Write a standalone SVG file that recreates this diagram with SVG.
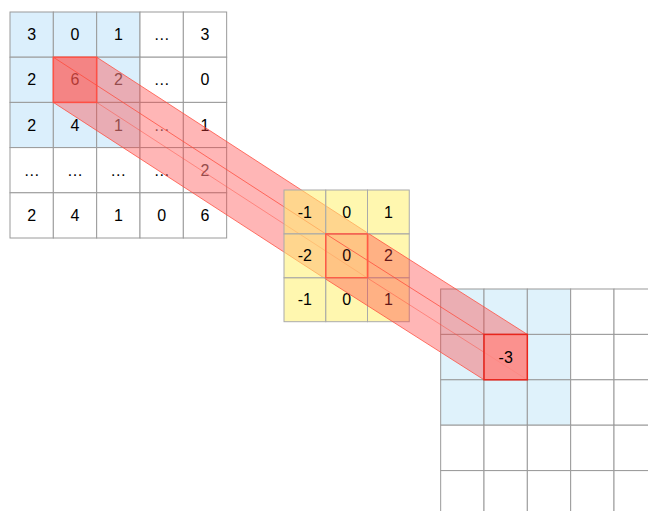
<svg xmlns="http://www.w3.org/2000/svg" width="648" height="511" viewBox="0 0 648 511">
<style>
.c{stroke:#9a9a9a;stroke-width:1}
.b{fill:#dbeffc}
.w{fill:#ffffff}
.kc{fill:#fff06e;fill-opacity:0.55;stroke:#aaaaaa;stroke-width:1}
.ob{fill:#dff2fb}
.t{font-family:"Liberation Sans",Arial,Helvetica,sans-serif;font-size:16px;fill:#000;text-anchor:middle;dominant-baseline:central}
.band{fill:#ff4040;fill-opacity:0.38;stroke:none}
.ln{stroke:#ff4a3a;stroke-width:1;stroke-opacity:0.75;fill:none}
.ln2{stroke:#ff4a3a;stroke-width:1;stroke-opacity:0.45;fill:none}
</style>
<g id="input-grid">
<rect class="c b" x="10" y="12" width="43.33" height="45.2"/>
<rect class="c b" x="53.33" y="12" width="43.33" height="45.2"/>
<rect class="c b" x="96.67" y="12" width="43.33" height="45.2"/>
<rect class="c w" x="140" y="12" width="43.33" height="45.2"/>
<rect class="c w" x="183.33" y="12" width="43.33" height="45.2"/>
<rect class="c b" x="10" y="57.2" width="43.33" height="45.2"/>
<rect class="c b" x="53.33" y="57.2" width="43.33" height="45.2"/>
<rect class="c b" x="96.67" y="57.2" width="43.33" height="45.2"/>
<rect class="c w" x="140" y="57.2" width="43.33" height="45.2"/>
<rect class="c w" x="183.33" y="57.2" width="43.33" height="45.2"/>
<rect class="c b" x="10" y="102.4" width="43.33" height="45.2"/>
<rect class="c b" x="53.33" y="102.4" width="43.33" height="45.2"/>
<rect class="c b" x="96.67" y="102.4" width="43.33" height="45.2"/>
<rect class="c w" x="140" y="102.4" width="43.33" height="45.2"/>
<rect class="c w" x="183.33" y="102.4" width="43.33" height="45.2"/>
<rect class="c w" x="10" y="147.6" width="43.33" height="45.2"/>
<rect class="c w" x="53.33" y="147.6" width="43.33" height="45.2"/>
<rect class="c w" x="96.67" y="147.6" width="43.33" height="45.2"/>
<rect class="c w" x="140" y="147.6" width="43.33" height="45.2"/>
<rect class="c w" x="183.33" y="147.6" width="43.33" height="45.2"/>
<rect class="c w" x="10" y="192.8" width="43.33" height="45.2"/>
<rect class="c w" x="53.33" y="192.8" width="43.33" height="45.2"/>
<rect class="c w" x="96.67" y="192.8" width="43.33" height="45.2"/>
<rect class="c w" x="140" y="192.8" width="43.33" height="45.2"/>
<rect class="c w" x="183.33" y="192.8" width="43.33" height="45.2"/>
<text class="t" x="31.67" y="34.6">3</text>
<text class="t" x="75" y="34.6">0</text>
<text class="t" x="118.33" y="34.6">1</text>
<text class="t" x="161.67" y="34.6">…</text>
<text class="t" x="205" y="34.6">3</text>
<text class="t" x="31.67" y="79.8">2</text>
<text class="t" x="75" y="79.8" fill="#444">6</text>
<text class="t" x="118.33" y="79.8" style="fill:#555">2</text>
<text class="t" x="161.67" y="79.8">…</text>
<text class="t" x="205" y="79.8">0</text>
<text class="t" x="31.67" y="125">2</text>
<text class="t" x="75" y="125">4</text>
<text class="t" x="118.33" y="125" style="fill:#555">1</text>
<text class="t" x="161.67" y="125" style="fill:#555">…</text>
<text class="t" x="205" y="125">1</text>
<text class="t" x="31.67" y="170.2">…</text>
<text class="t" x="75" y="170.2">…</text>
<text class="t" x="118.33" y="170.2">…</text>
<text class="t" x="161.67" y="170.2">…</text>
<text class="t" x="205" y="170.2" style="fill:#555">2</text>
<text class="t" x="31.67" y="215.4">2</text>
<text class="t" x="75" y="215.4">4</text>
<text class="t" x="118.33" y="215.4">1</text>
<text class="t" x="161.67" y="215.4">0</text>
<text class="t" x="205" y="215.4">6</text>
</g>
<g id="input-cell">
<rect x="53.33" y="57.2" width="43.33" height="45.2" fill="#ff7060" fill-opacity="0.5" stroke="#ff5a4a" stroke-width="1.5"/>
</g>
<g id="connectors">
<g id="projection-1">
<polygon class="band" points="96.67,57.2 369.08,233.9 369.08,279.1 325.75,279.1 53.33,102.4 53.33,57.2"/>
<line class="ln" x1="53.33" y1="57.2" x2="325.75" y2="233.9"/>
<line class="ln" x1="96.67" y1="57.2" x2="369.08" y2="233.9"/>
<line class="ln" x1="53.33" y1="102.4" x2="325.75" y2="279.1"/>
<line class="ln2" x1="96.67" y1="102.4" x2="369.08" y2="279.1"/>
</g>
</g>
<g id="kernel">
<rect class="kc" x="284" y="190" width="41.75" height="43.9"/>
<rect class="kc" x="325.75" y="190" width="41.75" height="43.9"/>
<rect class="kc" x="367.5" y="190" width="41.75" height="43.9"/>
<rect class="kc" x="284" y="233.9" width="41.75" height="43.9"/>
<rect class="kc" x="325.75" y="233.9" width="41.75" height="43.9"/>
<rect class="kc" x="367.5" y="233.9" width="41.75" height="43.9"/>
<rect class="kc" x="284" y="277.8" width="41.75" height="43.9"/>
<rect class="kc" x="325.75" y="277.8" width="41.75" height="43.9"/>
<rect class="kc" x="367.5" y="277.8" width="41.75" height="43.9"/>
<text class="t" x="304.9" y="212">-1</text>
<text class="t" x="346.6" y="212">0</text>
<text class="t" x="388.4" y="212">1</text>
<text class="t" x="304.9" y="255.9">-2</text>
<text class="t" x="346.6" y="255.9">0</text>
<text class="t" x="388.4" y="255.9">2</text>
<text class="t" x="304.9" y="299.8">-1</text>
<text class="t" x="346.6" y="299.8">0</text>
<text class="t" x="388.4" y="299.8">1</text>
</g>
<g id="output-grid">
<rect class="c ob" x="440.67" y="289" width="43.33" height="45.4"/>
<rect class="c ob" x="484" y="289" width="43.33" height="45.4"/>
<rect class="c ob" x="527.33" y="289" width="43.33" height="45.4"/>
<rect class="c w" x="570.67" y="289" width="43.33" height="45.4"/>
<rect class="c w" x="614" y="289" width="43.33" height="45.4"/>
<rect class="c ob" x="440.67" y="334.4" width="43.33" height="45.4"/>
<rect class="c ob" x="484" y="334.4" width="43.33" height="45.4"/>
<rect class="c ob" x="527.33" y="334.4" width="43.33" height="45.4"/>
<rect class="c w" x="570.67" y="334.4" width="43.33" height="45.4"/>
<rect class="c w" x="614" y="334.4" width="43.33" height="45.4"/>
<rect class="c ob" x="440.67" y="379.8" width="43.33" height="45.4"/>
<rect class="c ob" x="484" y="379.8" width="43.33" height="45.4"/>
<rect class="c ob" x="527.33" y="379.8" width="43.33" height="45.4"/>
<rect class="c w" x="570.67" y="379.8" width="43.33" height="45.4"/>
<rect class="c w" x="614" y="379.8" width="43.33" height="45.4"/>
<rect class="c w" x="440.67" y="425.2" width="43.33" height="45.4"/>
<rect class="c w" x="484" y="425.2" width="43.33" height="45.4"/>
<rect class="c w" x="527.33" y="425.2" width="43.33" height="45.4"/>
<rect class="c w" x="570.67" y="425.2" width="43.33" height="45.4"/>
<rect class="c w" x="614" y="425.2" width="43.33" height="45.4"/>
<rect class="c w" x="440.67" y="470.6" width="43.33" height="45.4"/>
<rect class="c w" x="484" y="470.6" width="43.33" height="45.4"/>
<rect class="c w" x="527.33" y="470.6" width="43.33" height="45.4"/>
<rect class="c w" x="570.67" y="470.6" width="43.33" height="45.4"/>
<rect class="c w" x="614" y="470.6" width="43.33" height="45.4"/>
</g>
<g id="connectors-2">
<g id="projection-2">
<polygon class="band" points="369.08,233.9 527.33,334.4 527.33,379.8 484,379.8 325.75,279.1 367.5,279.1 367.5,233.9"/>
<line class="ln" x1="325.75" y1="233.9" x2="484" y2="334.4"/>
<line class="ln" x1="369.08" y1="233.9" x2="527.33" y2="334.4"/>
<line class="ln" x1="325.75" y1="279.1" x2="484" y2="379.8"/>
<line class="ln2" x1="369.08" y1="279.1" x2="527.33" y2="379.8"/>
</g>
</g>
<g id="kernel-cell">
<rect x="325.75" y="233.9" width="41.75" height="43.9" fill="#ff4040" fill-opacity="0.12" stroke="#ff5a45" stroke-width="1.5"/>
</g>
<g id="output-cell">
<rect x="484" y="334.4" width="43.33" height="45.4" fill="#ff8a84" fill-opacity="0.8" stroke="#e8251c" stroke-width="1.5"/>
<text class="t" x="505.67" y="357.1">-3</text>
</g>
</svg>
